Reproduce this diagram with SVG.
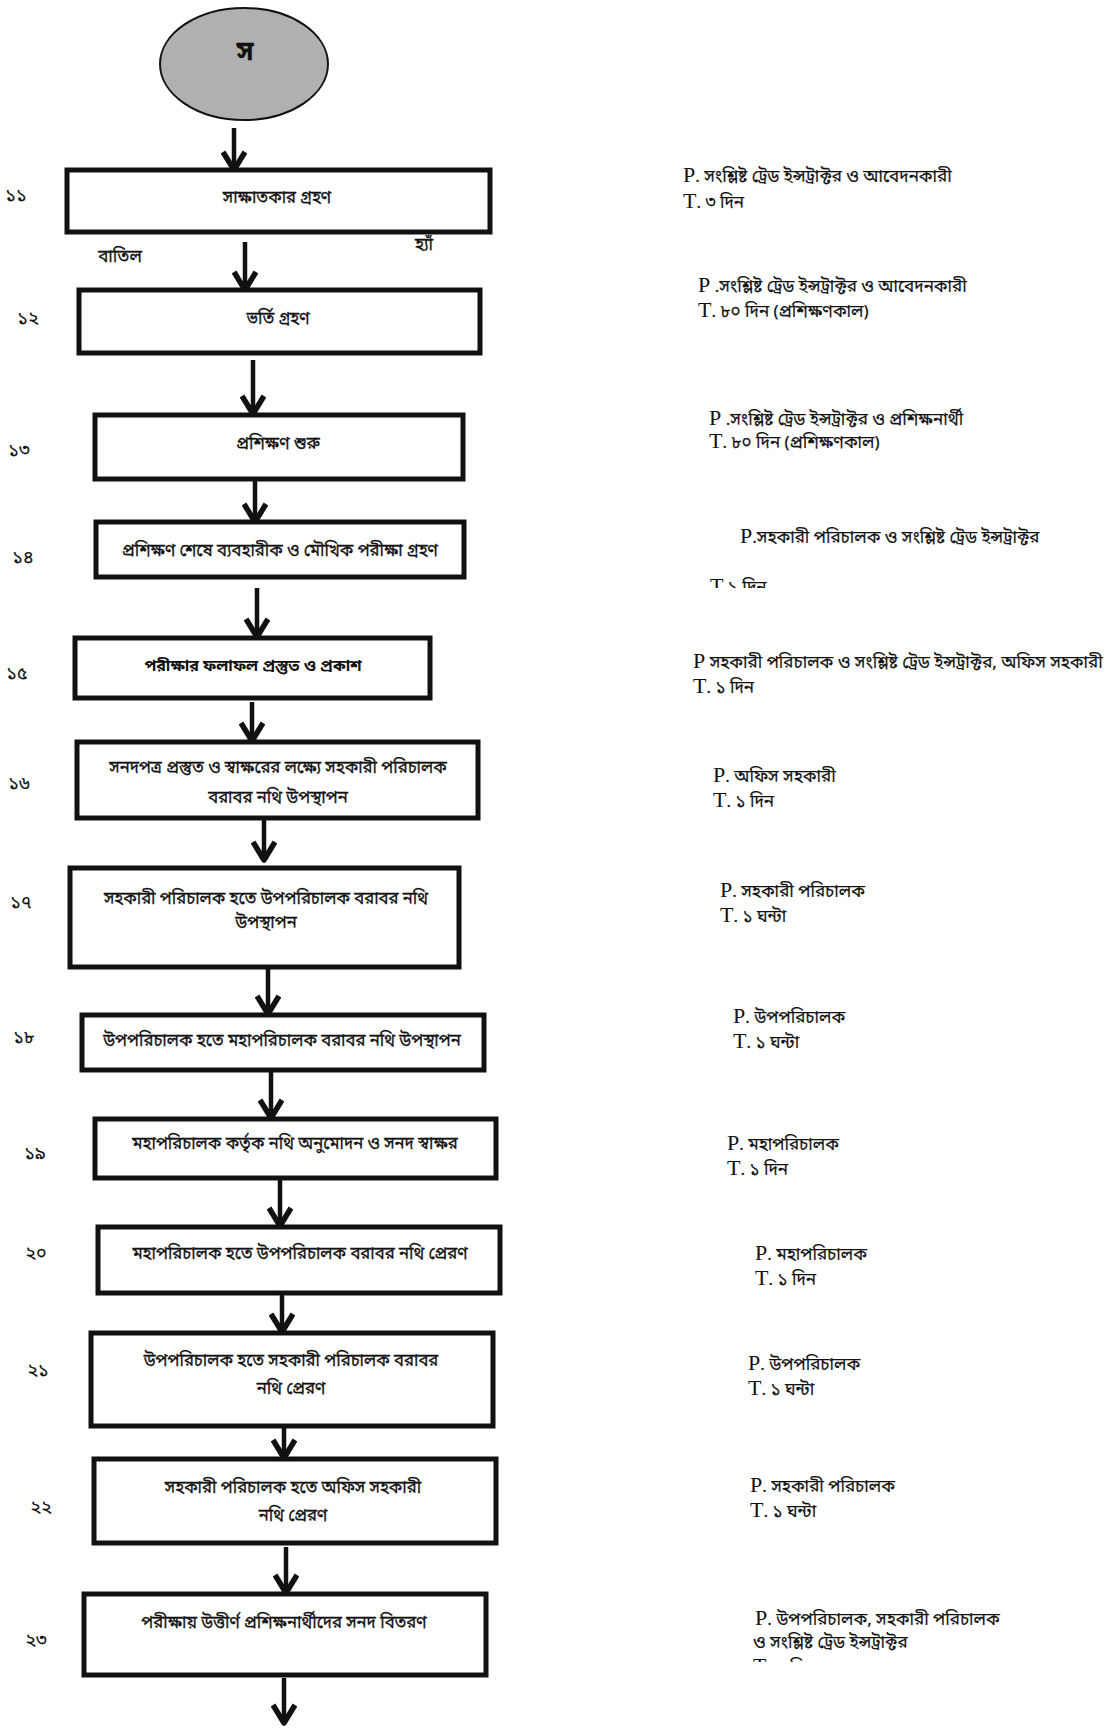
<svg xmlns="http://www.w3.org/2000/svg" width="1111" height="1733" viewBox="0 0 1111 1733">
<style>
.bn{font-family:"Noto Sans Bengali","Noto Serif Bengali","Lohit Bengali","Mukti","FreeSans","Noto Sans",sans-serif;fill:#111;stroke:#111;stroke-width:0.3}
.box{fill:#fff;stroke:#111;stroke-width:5}
.bt{font-size:16.7px;text-anchor:middle}
.num{font-size:18px;text-anchor:middle;stroke-width:0.2}
.rt{font-size:17px;stroke-width:0.2}
.pt{font-family:"Liberation Serif","Times New Roman",serif;font-size:22px;stroke-width:0}
.conn{stroke:#111;stroke-width:4.5;fill:none;marker-end:url(#ah)}
</style>
<defs>
<marker id="ah" viewBox="0 0 24 26" refX="21" refY="13" markerWidth="24" markerHeight="26" markerUnits="userSpaceOnUse" orient="auto">
<path d="M3,2 L21,13 L3,24" fill="none" stroke="#111" stroke-width="5.5" stroke-linejoin="round"/>
</marker>
<clipPath id="c14"><rect x="690" y="570" width="120" height="18"/></clipPath>
<clipPath id="c23"><rect x="740" y="1652" width="120" height="10"/></clipPath>
</defs>
<rect width="1111" height="1733" fill="#fff"/>

<g id="connectors">
<path class="conn" d="M234,128 V170"/>
<path class="conn" d="M245,242 V290"/>
<path class="conn" d="M253,360 V414"/>
<path class="conn" d="M255,480 V522"/>
<path class="conn" d="M257,588 V637"/>
<path class="conn" d="M252,702 V741"/>
<path class="conn" d="M264,795 V860"/>
<path class="conn" d="M268,967 V1014"/>
<path class="conn" d="M271,1070 V1118"/>
<path class="conn" d="M280,1178 V1226"/>
<path class="conn" d="M282,1293 V1332"/>
<path class="conn" d="M284,1427 V1458"/>
<path class="conn" d="M286,1547 V1593"/>
<path class="conn" d="M284,1678 V1723"/>
</g>

<g id="start">
<ellipse cx="244" cy="64" rx="84" ry="56" fill="#b0b0b0" stroke="#111" stroke-width="2"/>
<text class="bn" x="245" y="60" font-size="26" font-weight="bold" text-anchor="middle">স</text>
</g>

<g id="n11">
<rect class="box" x="67" y="170" width="423" height="62"/>
<text class="bn bt" x="277" y="203">সাক্ষাতকার গ্রহণ</text>
<text class="bn num" x="16" y="201">১১</text>
</g>
<text class="bn" x="120" y="262" font-size="17" text-anchor="middle">বাতিল</text>
<text class="bn" x="424" y="250" font-size="17" text-anchor="middle">হ্যাঁ</text>

<g id="n12">
<rect class="box" x="79" y="290" width="401" height="63"/>
<text class="bn bt" x="278" y="324">ভর্তি গ্রহণ</text>
<text class="bn num" x="28" y="324">১২</text>
</g>

<g id="n13">
<rect class="box" x="95" y="415" width="368" height="64"/>
<text class="bn bt" x="278" y="449">প্রশিক্ষণ শুরু</text>
<text class="bn num" x="19" y="456">১৩</text>
</g>

<g id="n14">
<rect class="box" x="96" y="522" width="368" height="55"/>
<text class="bn bt" x="280" y="556">প্রশিক্ষণ শেষে  ব্যবহারীক ও মৌখিক পরীক্ষা গ্রহণ</text>
<text class="bn num" x="23" y="563">১৪</text>
</g>

<g id="n15">
<rect class="box" x="75" y="638" width="355" height="60"/>
<text class="bn bt" x="253" y="671" font-weight="bold" style="font-size:16px;stroke-width:0">পরীক্ষার ফলাফল প্রস্তুত ও প্রকাশ</text>
<text class="bn num" x="17" y="679">১৫</text>
</g>

<g id="n16">
<rect class="box" x="77" y="742" width="401" height="76"/>
<text class="bn bt" x="278" y="773">সনদপত্র প্রস্তুত ও স্বাক্ষরের লক্ষ্যে  সহকারী পরিচালক</text>
<text class="bn bt" x="278" y="803">বরাবর নথি উপস্থাপন</text>
<text class="bn num" x="19" y="789">১৬</text>
</g>

<g id="n17">
<rect class="box" x="70" y="868" width="389" height="99"/>
<text class="bn bt" x="266" y="904">সহকারী পরিচালক হতে উপপরিচালক বরাবর নথি</text>
<text class="bn bt" x="266" y="928">উপস্থাপন</text>
<text class="bn num" x="21" y="908">১৭</text>
</g>

<g id="n18">
<rect class="box" x="82" y="1015" width="402" height="55"/>
<text class="bn bt" x="282" y="1046">উপপরিচালক হতে মহাপরিচালক বরাবর নথি উপস্থাপন</text>
<text class="bn num" x="24" y="1043">১৮</text>
</g>

<g id="n19">
<rect class="box" x="95" y="1119" width="401" height="59"/>
<text class="bn bt" x="295" y="1149">মহাপরিচালক কর্তৃক  নথি অনুমোদন ও সনদ স্বাক্ষর</text>
<text class="bn num" x="35" y="1159">১৯</text>
</g>

<g id="n20">
<rect class="box" x="98" y="1227" width="402" height="66"/>
<text class="bn bt" x="300" y="1259">মহাপরিচালক হতে উপপরিচালক বরাবর নথি প্রেরণ</text>
<text class="bn num" x="36" y="1259">২০</text>
</g>

<g id="n21">
<rect class="box" x="91" y="1333" width="402" height="93"/>
<text class="bn bt" x="291" y="1366">উপপরিচালক হতে সহকারী পরিচালক বরাবর</text>
<text class="bn bt" x="291" y="1394">নথি প্রেরণ</text>
<text class="bn num" x="38" y="1376">২১</text>
</g>

<g id="n22">
<rect class="box" x="94" y="1459" width="402" height="84"/>
<text class="bn bt" x="293" y="1493">সহকারী পরিচালক হতে অফিস সহকারী</text>
<text class="bn bt" x="293" y="1521">নথি প্রেরণ</text>
<text class="bn num" x="41" y="1513">২২</text>
</g>

<g id="n23">
<rect class="box" x="84" y="1594" width="402" height="81"/>
<text class="bn bt" x="284" y="1628">পরীক্ষায় উত্তীর্ণ প্রশিক্ষনার্থীদের সনদ বিতরণ</text>
<text class="bn num" x="36" y="1646">২৩</text>
</g>

<g id="responsibilities">
<text class="bn rt" x="683" y="182"><tspan class="pt">P</tspan>. সংশ্লিষ্ট ট্রেড ইন্সট্রাক্টর ও আবেদনকারী</text>
<text class="bn rt" x="683" y="208"><tspan class="pt">T</tspan>. ৩ দিন</text>

<text class="bn rt" x="698" y="292"><tspan class="pt">P</tspan> .সংশ্লিষ্ট ট্রেড ইন্সট্রাক্টর ও আবেদনকারী</text>
<text class="bn rt" x="698" y="317"><tspan class="pt">T</tspan>. ৮০ দিন (প্রশিক্ষণকাল)</text>

<text class="bn rt" x="709" y="425"><tspan class="pt">P</tspan> .সংশ্লিষ্ট ট্রেড ইন্সট্রাক্টর ও প্রশিক্ষনার্থী</text>
<text class="bn rt" x="709" y="448"><tspan class="pt">T</tspan>. ৮০ দিন (প্রশিক্ষণকাল)</text>

<text class="bn rt" x="740" y="543"><tspan class="pt">P</tspan>.সহকারী পরিচালক ও সংশ্লিষ্ট ট্রেড ইন্সট্রাক্টর</text>
<text class="bn rt" x="710" y="593" clip-path="url(#c14)"><tspan class="pt">T</tspan> ১ দিন</text>

<text class="bn rt" x="693" y="668"><tspan class="pt">P</tspan> সহকারী পরিচালক ও সংশ্লিষ্ট ট্রেড ইন্সট্রাক্টর, অফিস সহকারী</text>
<text class="bn rt" x="693" y="693"><tspan class="pt">T</tspan>. ১ দিন</text>

<text class="bn rt" x="713" y="782"><tspan class="pt">P</tspan>. অফিস সহকারী</text>
<text class="bn rt" x="713" y="807"><tspan class="pt">T</tspan>. ১ দিন</text>

<text class="bn rt" x="720" y="897"><tspan class="pt">P</tspan>. সহকারী পরিচালক</text>
<text class="bn rt" x="720" y="922"><tspan class="pt">T</tspan>. ১ ঘন্টা</text>

<text class="bn rt" x="733" y="1023"><tspan class="pt">P</tspan>. উপপরিচালক</text>
<text class="bn rt" x="733" y="1048"><tspan class="pt">T</tspan>. ১ ঘন্টা</text>

<text class="bn rt" x="727" y="1150"><tspan class="pt">P</tspan>. মহাপরিচালক</text>
<text class="bn rt" x="727" y="1175"><tspan class="pt">T</tspan>. ১ দিন</text>

<text class="bn rt" x="755" y="1260"><tspan class="pt">P</tspan>. মহাপরিচালক</text>
<text class="bn rt" x="755" y="1285"><tspan class="pt">T</tspan>. ১ দিন</text>

<text class="bn rt" x="748" y="1370"><tspan class="pt">P</tspan>. উপপরিচালক</text>
<text class="bn rt" x="748" y="1395"><tspan class="pt">T</tspan>. ১ ঘন্টা</text>

<text class="bn rt" x="750" y="1492"><tspan class="pt">P</tspan>. সহকারী পরিচালক</text>
<text class="bn rt" x="750" y="1517"><tspan class="pt">T</tspan>. ১ ঘন্টা</text>

<text class="bn rt" x="755" y="1625"><tspan class="pt">P</tspan>. উপপরিচালক, সহকারী পরিচালক</text>
<text class="bn rt" x="753" y="1648">ও সংশ্লিষ্ট ট্রেড ইন্সট্রাক্টর</text>
<text class="bn rt" x="753" y="1673" clip-path="url(#c23)"><tspan class="pt">T</tspan>. ১ দিন</text>
</g>
</svg>
